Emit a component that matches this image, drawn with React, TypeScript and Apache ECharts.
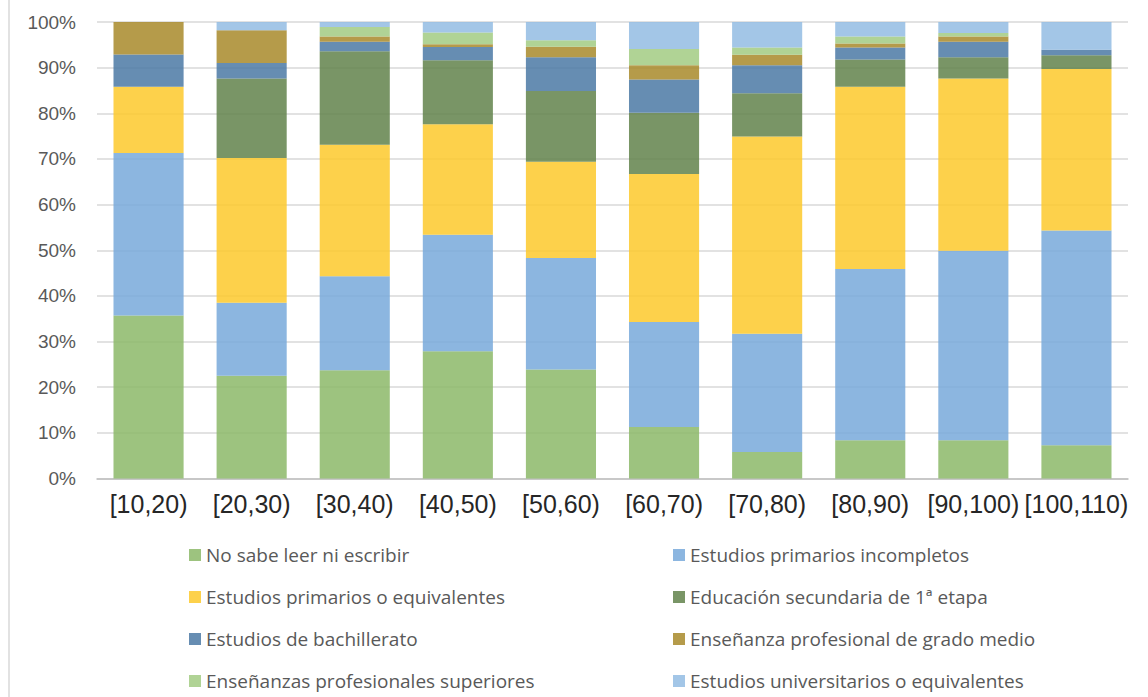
import React, { useEffect, useRef } from "react";
import * as echarts from "echarts";

const categories = ["[10,20)", "[20,30)", "[30,40)", "[40,50)", "[50,60)", "[60,70)", "[70,80)", "[80,90)", "[90,100)", "[100,110)"];

const noSabe = [35.7, 22.5, 23.7, 27.9, 23.9, 11.3, 5.8, 8.4, 8.4, 7.3];
const primariosIncompletos = [35.6, 16.0, 20.6, 25.5, 24.4, 23.0, 25.9, 37.5, 41.5, 47.0];
const primarios = [14.5, 31.7, 28.8, 24.2, 21.1, 32.4, 43.2, 39.9, 37.7, 35.4];
const secundaria = [0, 17.4, 20.5, 14.0, 15.5, 13.4, 9.5, 6.0, 4.7, 3.0];
const bachillerato = [7.1, 3.4, 2.1, 2.9, 7.4, 7.3, 6.1, 2.6, 3.4, 1.2];
const gradoMedio = [7.1, 7.2, 1.1, 0.6, 2.3, 3.1, 2.3, 0.9, 1.1, 0];
const superiores = [0, 0, 2.1, 2.6, 1.4, 3.6, 1.6, 1.5, 0.8, 0];
const universitarios = [0, 1.8, 1.1, 2.3, 4.0, 5.9, 5.6, 3.2, 2.4, 6.1];

const seriesDefs = [
  { name: "No sabe leer ni escribir", data: noSabe, color: "#8cb868" },
  { name: "Estudios primarios incompletos", data: primariosIncompletos, color: "#78a9da" },
  { name: "Estudios primarios o equivalentes", data: primarios, color: "#fdc92c" },
  { name: "Educación secundaria de 1ª etapa", data: secundaria, color: "#62824b" },
  { name: "Estudios de bachillerato", data: bachillerato, color: "#4b79a4" },
  { name: "Enseñanza profesional de grado medio", data: gradoMedio, color: "#a88a2a" },
  { name: "Enseñanzas profesionales superiores", data: superiores, color: "#a2cb82" },
  { name: "Estudios universitarios o equivalentes", data: universitarios, color: "#93bce3" },
];

const legendCol1 = [seriesDefs[0].name, seriesDefs[2].name, seriesDefs[4].name, seriesDefs[6].name];
const legendCol2 = [seriesDefs[1].name, seriesDefs[3].name, seriesDefs[5].name, seriesDefs[7].name];

export default function App() {
  const ref = useRef<HTMLDivElement>(null);

  useEffect(() => {
    if (!ref.current) return;
    const chart = echarts.init(ref.current, null, { renderer: "svg" });
    const legendCommon = {
      orient: "vertical",
      top: 545,
      padding: 0,
      itemWidth: 12,
      itemHeight: 12,
      itemGap: 22,
      icon: "rect",
      selectedMode: false,
      textStyle: {
        fontFamily: "Open Sans",
        fontSize: 19,
        color: "#595959",
        lineHeight: 20,
      },
    };
    chart.setOption({
      animation: false,
      backgroundColor: "#ffffff",
      grid: { left: 97, right: 20, top: 22, bottom: 218.5, containLabel: false },
      legend: [
        { ...legendCommon, left: 189, data: legendCol1 },
        { ...legendCommon, left: 673, data: legendCol2 },
      ],
      graphic: [
        {
          type: "line",
          shape: { x1: 9, y1: 0, x2: 9, y2: 697 },
          style: { stroke: "#d9d9d9", lineWidth: 1.5 },
          silent: true,
        },
      ],
      xAxis: {
        type: "category",
        data: categories,
        axisLine: { show: true, lineStyle: { color: "#bfbfbf", width: 1.5 } },
        axisTick: { show: false },
        axisLabel: {
          interval: 0,
          hideOverlap: false,
          fontFamily: "Liberation Sans",
          fontSize: 25,
          color: "#262626",
          margin: 13,
        },
      },
      yAxis: {
        type: "value",
        min: 0,
        max: 100,
        interval: 10,
        axisLine: { show: false },
        axisTick: { show: false },
        splitLine: { lineStyle: { color: "#d9d9d9", width: 1.5 } },
        axisLabel: {
          formatter: "{value}%",
          fontFamily: "Liberation Sans",
          fontSize: 19,
          color: "#595959",
          margin: 21,
        },
      },
      series: seriesDefs.map((s) => ({
        name: s.name,
        type: "bar",
        stack: "total",
        barWidth: "68%",
        data: s.data,
        itemStyle: { color: s.color, opacity: 0.85 },
        emphasis: { disabled: true },
      })),
    });
    return () => chart.dispose();
  }, []);

  return (
    <div
      ref={ref}
      style={{ position: "absolute", left: 0, top: 0, width: 1148, height: 697 }}
    />
  );
}
